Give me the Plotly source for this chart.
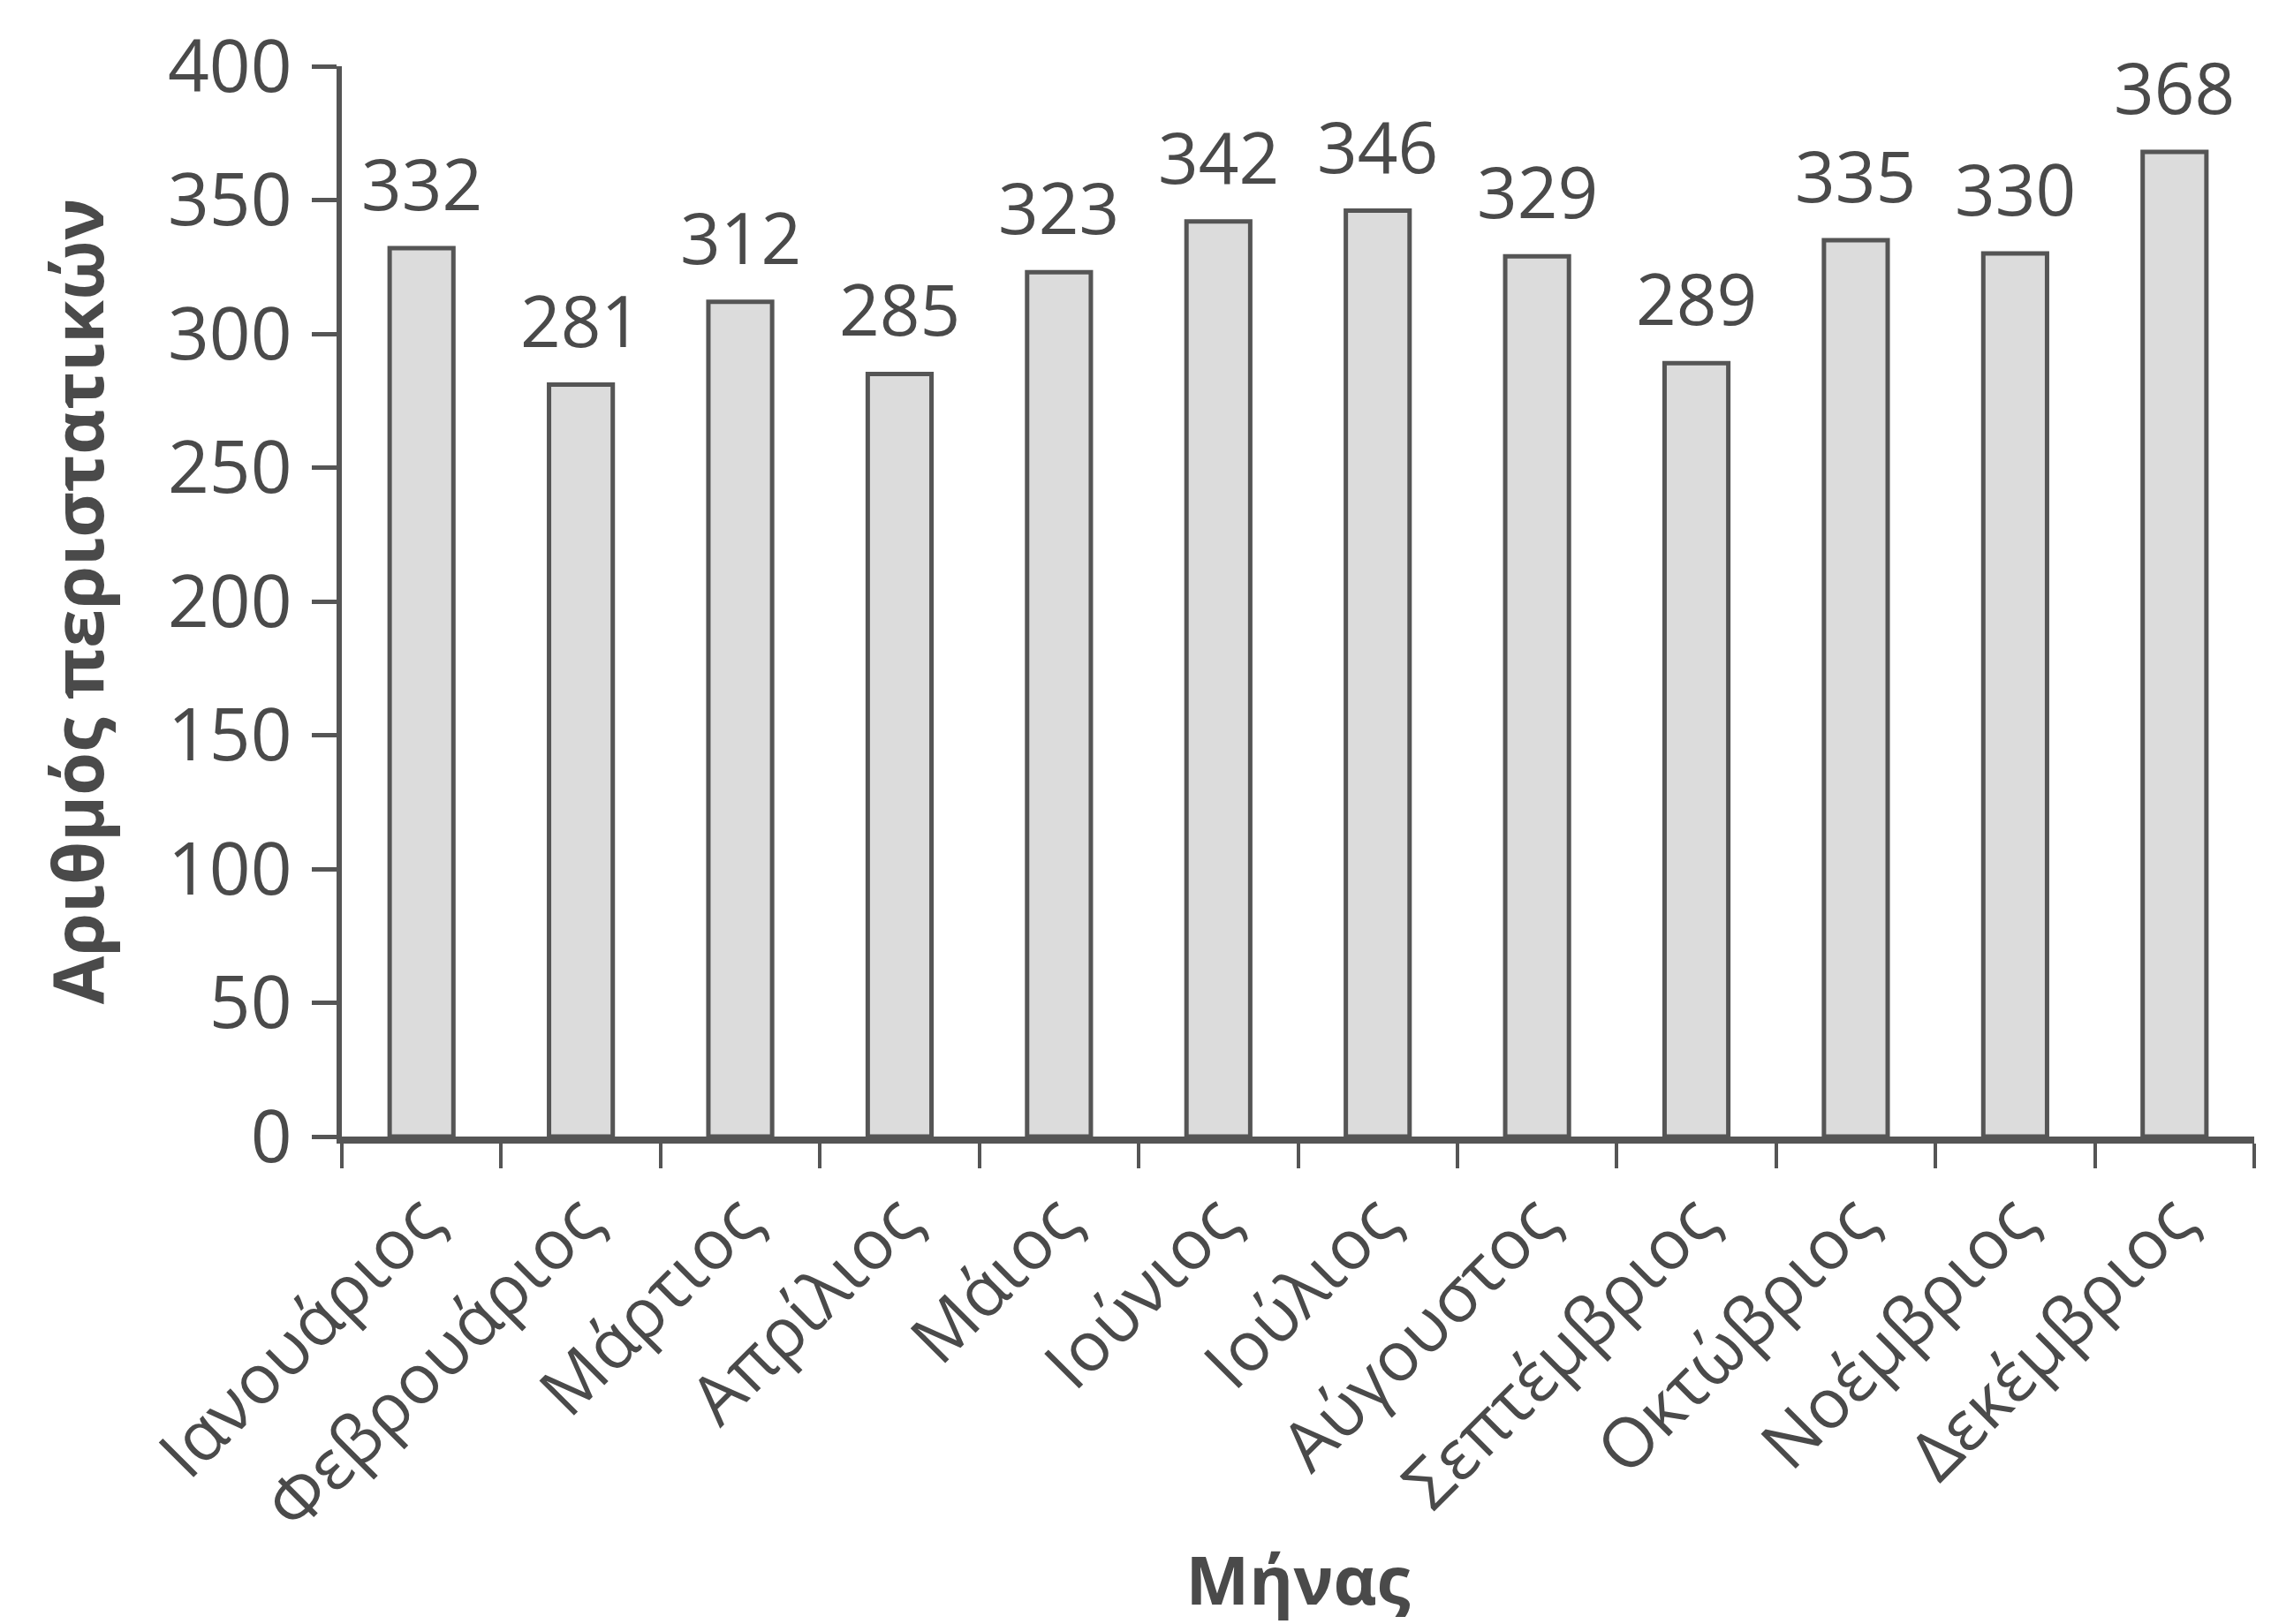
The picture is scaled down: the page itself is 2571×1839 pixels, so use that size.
import plotly.graph_objects as go

# Monthly case counts
months = ["Ιανουάριος", "Φεβρουάριος", "Μάρτιος", "Απρίλιος", "Μάιος", "Ιούνιος",
          "Ιούλιος", "Αύγουστος", "Σεπτέμβριος", "Οκτώβριος", "Νοέμβριος", "Δεκέμβριος"]
cases = [332, 281, 312, 285, 323, 342, 346, 329, 289, 335, 330, 368]
y_ticks = [0, 50, 100, 150, 200, 250, 300, 350, 400]

INK = "#4a4a4a"
LINE = "#555555"
FONT = "Open Sans"

fig = go.Figure(
    go.Bar(
        x=months,
        y=cases,
        marker=dict(color="#dcdcdc", line=dict(color="#555555", width=5)),
        hoverinfo="x+y",
    )
)

# value labels above each bar
for m, v in zip(months, cases):
    fig.add_annotation(
        x=m, y=v, text=str(v), showarrow=False,
        yanchor="bottom", yshift=18,
        font=dict(family=FONT, size=80, color=INK),
    )

fig.update_layout(
    width=2571, height=1839,
    margin=dict(l=387, r=19, t=75, b=552, autoexpand=False),
    paper_bgcolor="white", plot_bgcolor="white",
    bargap=0.6,
    showlegend=False,
    font=dict(family=FONT, size=80, color=INK),
)

fig.update_xaxes(
    type="category",
    tickangle=-45,
    tickson="boundaries",
    ticks="outside", ticklen=28, tickwidth=4, tickcolor=LINE,
    showline=True, linewidth=8, linecolor=LINE,
    showgrid=False, zeroline=False,
    tickfont=dict(family=FONT, size=78, color=INK),
    ticklabelstandoff=10,
    title=dict(text="<b>Μήνας</b>", standoff=30,
               font=dict(family=FONT, size=76, color=INK)),
    automargin=False,
)

fig.update_yaxes(
    range=[0, 400],
    tickvals=y_ticks,
    ticks="outside", ticklen=28, tickwidth=5, tickcolor=LINE,
    showline=True, linewidth=6, linecolor=LINE,
    showgrid=False, zeroline=False,
    tickfont=dict(family=FONT, size=82, color=INK),
    ticklabelstandoff=6,
    title=dict(text="<b>Αριθμός περιστατικών</b>", standoff=48,
               font=dict(family=FONT, size=79, color=INK)),
    automargin=False,
)

fig.write_html("out.html")
